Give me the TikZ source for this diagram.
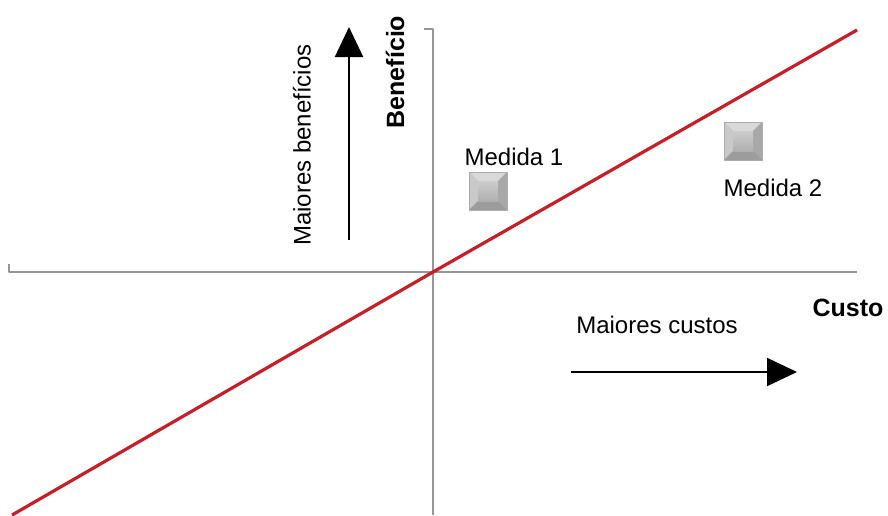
\documentclass[tikz,border=0pt]{standalone}
\usepackage{fontspec}
\setmainfont{Liberation Sans}
\usetikzlibrary{arrows.meta,calc}
\definecolor{eixo}{RGB}{150,150,150}
\definecolor{reta}{RGB}{200,30,40}
\tikzset{
  medsq/.style={minimum size=38pt,inner sep=0pt,fill=gray!55,draw=gray!65,line width=0.5pt,
    path picture={
      \coordinate (nw) at (path picture bounding box.north west);
      \coordinate (ne) at (path picture bounding box.north east);
      \coordinate (sw) at (path picture bounding box.south west);
      \coordinate (se) at (path picture bounding box.south east);
      \fill[gray!30] (nw)--(ne)--($(ne)+(-9,9)$)--($(nw)+(9,9)$)--cycle;
      \fill[gray!42] (nw)--(sw)--($(sw)+(9,-9)$)--($(nw)+(9,9)$)--cycle;
      \fill[gray!68] (ne)--(se)--($(se)+(-9,-9)$)--($(ne)+(-9,9)$)--cycle;
      \fill[gray!78] (sw)--(se)--($(se)+(-9,-9)$)--($(sw)+(9,-9)$)--cycle;
      \shade[top color=gray!40,bottom color=gray!62] ($(nw)+(9,9)$) rectangle ($(se)+(-9,-9)$);
    }},
  rotulo/.style={font=\fontsize{24}{28}\selectfont},
  titulo/.style={font=\fontsize{25}{29}\selectfont\bfseries}
}
\begin{document}
\begin{tikzpicture}[x=1pt,y=-1pt,line join=round,>={Triangle[length=30pt,width=28pt]}]
			\useasboundingbox (0,0) rectangle (888,515);
			\coordinate (O) at (433,272);
			\coordinate (xa) at (9,272);
			\coordinate (xb) at (857,272);
			\coordinate (ya) at (433,29);
			\coordinate (yb) at (433,515);
			\draw[eixo,line width=1.4pt] (9,264)--(xa)--(xb);
			\draw[eixo,line width=1.4pt] (424,29)--(ya)--(yb);
			\coordinate (ra) at (12,515);
			\coordinate (rb) at (857,30);
			\draw[reta,line width=3.2pt] (ra)--(O)--(rb);
			\coordinate (ba) at (349,240);
			\coordinate (bb) at (349,27);
			\draw[->,line width=2pt] (ba)--(bb);
			\coordinate (ca) at (571,372);
			\coordinate (cb) at (797,372);
			\draw[->,line width=2pt] (ca)--(cb);
			\node[rotulo,rotate=90] (mb) at (302,145) {Maiores benefícios};
			\node[titulo,rotate=90] (ben) at (395,72) {Benefício};
			\node[rotulo] (mc) at (657,325) {Maiores custos};
			\node[titulo] (cus) at (848,308) {Custo};
			\node[medsq] (m1) at (488,191) {};
			\node[rotulo] (t1) at (514,157) {Medida 1};
			\node[medsq] (m2) at (743,141) {};
			\node[rotulo] (t2) at (773,188) {Medida 2};
		\end{tikzpicture}
\end{document}
